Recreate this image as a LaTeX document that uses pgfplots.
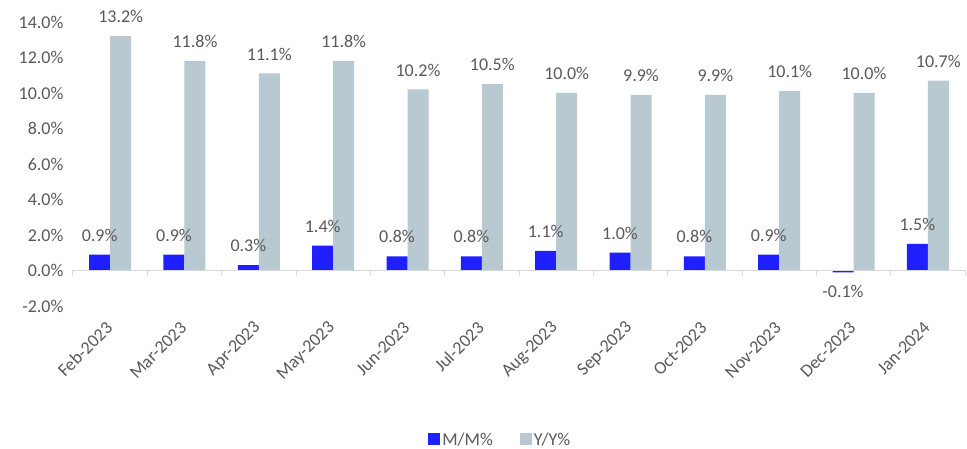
\documentclass[border=0pt]{standalone}
\usepackage{pgfplots}
\pgfplotsset{compat=1.18}
\usepackage{fontspec}
\setmainfont{Carlito}
\definecolor{mmblue}{RGB}{31,31,255}
\definecolor{yygray}{RGB}{185,201,209}
\definecolor{txt}{RGB}{89,89,89}
\definecolor{axl}{RGB}{217,217,217}
\begin{document}
\begin{tikzpicture}
\begin{axis}[
  at={(0pt,0pt)}, anchor=south west,
  scale only axis, width=892pt, height=284pt,
  ymin=-2, ymax=14, xmin=-0.5, xmax=11.5,
  ybar=0pt, bar width=21pt,
  axis line style={draw=none},
  xtick=data,
  xticklabels={Feb-2023,Mar-2023,Apr-2023,May-2023,Jun-2023,Jul-2023,Aug-2023,Sep-2023,Oct-2023,Nov-2023,Dec-2023,Jan-2024},
  major tick length=0pt,
  ytick={-2,0,2,...,14},
  yticklabel={\pgfmathprintnumber[fixed,fixed zerofill,precision=1]{\tick}\%},
  /pgf/number format/assume math mode=true,
  ticklabel style={font=\fontsize{18}{20}\selectfont, text=txt},
  yticklabel style={xshift=-6pt},
  xticklabel style={rotate=45, anchor=east, xshift=2pt},
  xticklabel shift=18pt,
  nodes near coords={\pgfmathprintnumber[fixed,fixed zerofill,precision=1]{\pgfplotspointmeta}\%},
  nodes near coords align=vertical,
  every node near coord/.append style={font=\fontsize{18}{20}\selectfont, text=txt, inner ysep=13pt},
  legend style={at={(0.479,-0.472)}, anchor=center, draw=none, legend columns=2,
    font=\fontsize{18}{20}\selectfont, text=txt, inner ysep=1pt,
    /tikz/every even column/.append style={column sep=25pt}},
  legend image code/.code={\fill[#1] (0pt,-5pt) rectangle (12pt,7pt);},
  clip=false,
]
\addplot[fill=mmblue, draw=none] coordinates {(0,0.9) (1,0.9) (2,0.3) (3,1.4) (4,0.8) (5,0.8) (6,1.1) (7,1.0) (8,0.8) (9,0.9) (10,-0.1) (11,1.5)};
\addplot[fill=yygray, draw=none] coordinates {(0,13.2) (1,11.8) (2,11.1) (3,11.8) (4,10.2) (5,10.5) (6,10.0) (7,9.9) (8,9.9) (9,10.1) (10,10.0) (11,10.7)};
\legend{M/M\%, Y/Y\%}
\draw[axl, line width=1pt] (axis cs:-0.5,0) -- (axis cs:11.5,0);
\pgfplotsinvokeforeach{-0.5,0.5,...,11.5}{\draw[axl, line width=1pt] (axis cs:#1,0) -- ++(0pt,-6pt);}
\end{axis}
\pgfresetboundingbox
\path[use as bounding box] (-73pt,-143pt) rectangle (894pt,306pt);
\end{tikzpicture}
\end{document}
